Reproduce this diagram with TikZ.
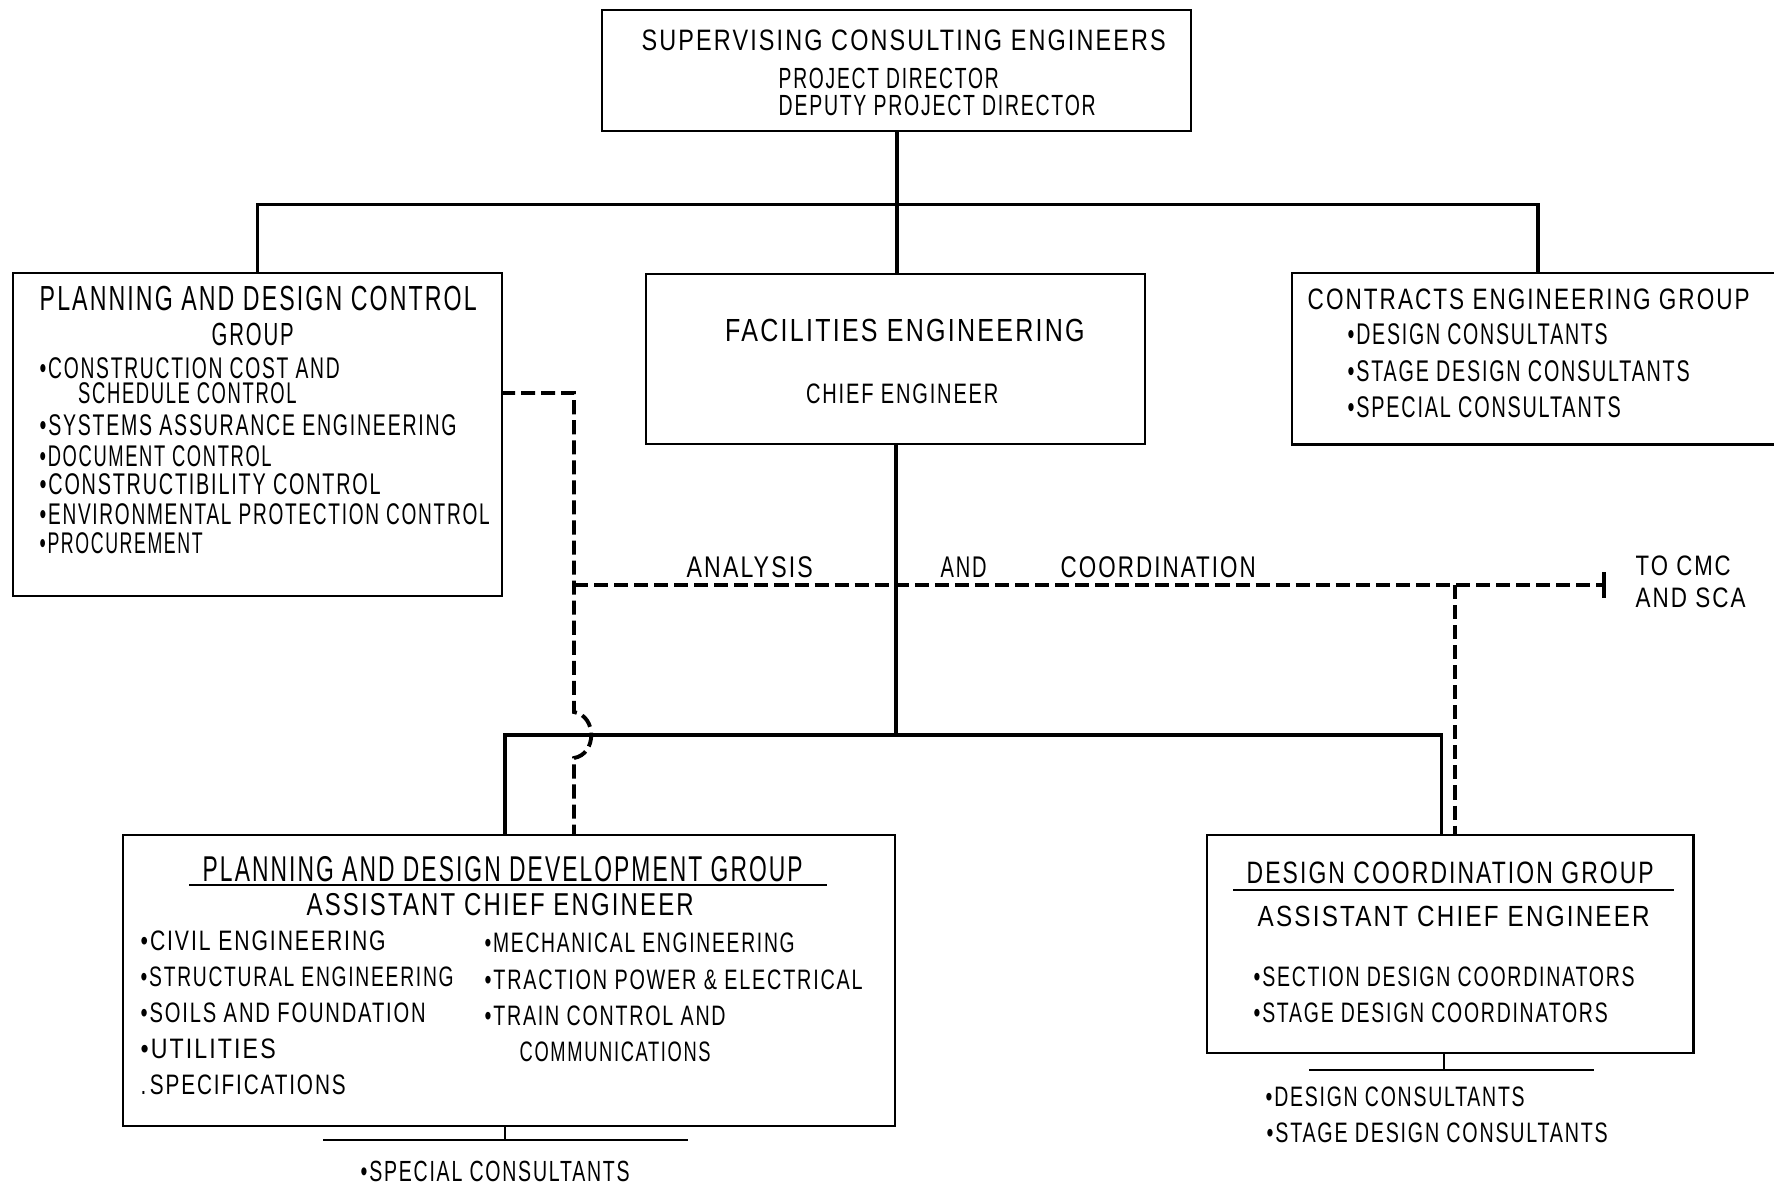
\documentclass[tikz,border=0pt]{standalone}
\usepackage{fontspec}
\setmainfont{Liberation Sans}[LetterSpace=9]
\usetikzlibrary{arrows.meta}
% one drawing unit = 0.01cm
\newlength\pxu
\setlength\pxu{0.01cm}
% set a line of lettering to a given width (in drawing units), keeping its height
\newcommand\fw[2]{\resizebox{#1\pxu}{\height}{#2}}

\begin{document}
\begin{tikzpicture}[x=0.01cm, y=-0.01cm,
  box/.style={draw, line width=0.7pt, inner sep=0pt, anchor=north west},
  conn/.style={line width=1pt},
  rel/.style={line width=1.1pt, dash pattern=on 4pt off 1.7pt},
  thinline/.style={line width=0.7pt},
  lbl/.style={inner sep=0pt, anchor=base west},
  fs/.style={font=\fontsize{#1}{#1}\selectfont}]

\fill[white] (0,0) rectangle (1774,1190);
\useasboundingbox (0,0) rectangle (1774,1190);

% ---------- boxes ----------
\node[box, minimum width=589\pxu, minimum height=121\pxu] (sce) at (601,9) {};
\node[box, minimum width=489.5\pxu, minimum height=323\pxu] (pdc) at (11.5,272) {};
\node[box, minimum width=499\pxu, minimum height=170\pxu] (fac) at (645,273) {};
\node[box, draw=none, minimum width=482\pxu, minimum height=169\pxu] (ceg) at (1292,273) {};
\draw[line width=0.7pt] (ceg.north east) -- (ceg.north west) -- (ceg.south west) -- (ceg.south east);
\node[box, minimum width=772\pxu, minimum height=290.5\pxu] (pddg) at (122,834) {};
\node[box, minimum width=486\pxu, minimum height=218\pxu] (dcg) at (1206,834) {};

% ---------- line of authority ----------
\coordinate (bar) at (0,204.5);
\coordinate (cegin) at (1538,273);
\draw[conn] (sce.south) -- (sce.south |- fac.north);
\draw[conn] (pdc.north) -- (pdc.north |- bar) -- (cegin |- bar) -- (cegin);

\coordinate (lbar) at (0,735);
\coordinate (pddgin) at (505,834);
\coordinate (dcgin) at (1441.6,834);
\draw[conn] (fac.south) -- (fac.south |- lbar);
\draw[conn] (pddgin) -- (pddgin |- lbar) -- (dcgin |- lbar) -- (dcgin);

% ---------- analysis and coordination (dashed) ----------
\coordinate (pdcout) at (501,393);
\coordinate (pddgrel) at (574,834);
\coordinate (relL) at (574,585);
\coordinate (relR) at (1455,585);
\coordinate (cmc) at (1606,585);
\draw[rel] (pdcout) -- (574,393) -- (574,712)
  .. controls (597,716) and (597,754) .. (574,758) -- (pddgrel);
\draw[rel, -{Bar[width=7.4pt]}] (relL) -- (cmc);
\draw[rel] (relR) -- (relR |- dcg.north);

% ---------- consultant branches ----------
\coordinate (spc) at (505,1140);
\coordinate (spcL) at (323,1140);
\coordinate (spcR) at (688,1140);
\draw[thinline] (spc |- pddg.south) -- (spc);
\draw[thinline] (spcL) -- (spcR);
\coordinate (dcs) at (1444,1070);
\coordinate (dcsL) at (1309,1070);
\coordinate (dcsR) at (1594,1070);
\draw[thinline] (dcs |- dcg.south) -- (dcs);
\draw[thinline] (dcsL) -- (dcsR);

% header rules
\draw[thinline] (189,885) -- (827,885);
\draw[thinline] (1233,890) -- (1674,890);

% ---------- lettering ----------
\node[lbl, fs=8.4] (t1) at (641,50.6) {\fw{524}{SUPERVISING CONSULTING ENGINEERS}};
\node[lbl, fs=8.3] (t2) at (778,88) {\fw{220}{PROJECT DIRECTOR}};
\node[lbl, fs=8.3] (t3) at (778,115) {\fw{317}{DEPUTY PROJECT DIRECTOR}};

\node[lbl, fs=9.9] (t4) at (39,310) {\fw{437}{PLANNING AND DESIGN CONTROL}};
\node[lbl, fs=9.1] (t5) at (211,345) {\fw{82}{GROUP}};
\node[lbl, fs=8.5] (t6) at (39,378) {\fw{300}{•CONSTRUCTION COST AND}};
\node[lbl, fs=8.5] (t7) at (77.5,403) {\fw{218.5}{SCHEDULE CONTROL}};
\node[lbl, fs=8.5] (t8) at (39,435) {\fw{417}{•SYSTEMS ASSURANCE ENGINEERING}};
\node[lbl, fs=8.5] (t9) at (39,466) {\fw{232}{•DOCUMENT CONTROL}};
\node[lbl, fs=8.5] (t10) at (39,494) {\fw{341}{•CONSTRUCTIBILITY CONTROL}};
\node[lbl, fs=8.5] (t11) at (39,524) {\fw{450}{•ENVIRONMENTAL PROTECTION CONTROL}};
\node[lbl, fs=8.5] (t12) at (39,553) {\fw{163}{•PROCUREMENT}};

\node[lbl, fs=9.1] (t13) at (724.5,341) {\fw{359.5}{FACILITIES ENGINEERING}};
\node[lbl, fs=8.0] (t14) at (805.4,403) {\fw{192.3}{CHIEF ENGINEER}};

\node[lbl, fs=8.4] (t15) at (1307,309) {\fw{442}{CONTRACTS ENGINEERING GROUP}};
\node[lbl, fs=8.5] (t16) at (1347,344) {\fw{260}{•DESIGN CONSULTANTS}};
\node[lbl, fs=8.5] (t17) at (1347,381.6) {\fw{342}{•STAGE DESIGN CONSULTANTS}};
\node[lbl, fs=8.5] (t18) at (1347,417) {\fw{273}{•SPECIAL CONSULTANTS}};

\node[lbl, fs=8.5] (t19) at (686,577) {\fw{126}{ANALYSIS}};
\node[lbl, fs=8.5] (t20) at (940,577) {\fw{46}{AND}};
\node[lbl, fs=8.5] (t21) at (1060,577) {\fw{195}{COORDINATION}};
\node[lbl, fs=8.0] (t22) at (1635,575) {\fw{95}{TO CMC}};
\node[lbl, fs=8.0] (t23) at (1635,607) {\fw{110}{AND SCA}};

\node[lbl, fs=10.2] (t24) at (202,881) {\fw{600}{PLANNING AND DESIGN DEVELOPMENT GROUP}};
\node[lbl, fs=9.0] (t25) at (306,915.6) {\fw{387}{ASSISTANT CHIEF ENGINEER}};
\node[lbl, fs=8.0] (t26) at (140,950) {\fw{245}{•CIVIL ENGINEERING}};
\node[lbl, fs=8.0] (t27) at (140,986) {\fw{313}{•STRUCTURAL ENGINEERING}};
\node[lbl, fs=8.0] (t28) at (140,1022) {\fw{285}{•SOILS AND FOUNDATION}};
\node[lbl, fs=8.0] (t29) at (140,1058) {\fw{135}{•UTILITIES}};
\node[lbl, fs=8.0] (t30) at (140,1094) {\fw{205}{.\,SPECIFICATIONS}};
\node[lbl, fs=8.0] (t31) at (484,952) {\fw{310}{•MECHANICAL ENGINEERING}};
\node[lbl, fs=8.0] (t32) at (484,989) {\fw{378}{•TRACTION POWER \& ELECTRICAL}};
\node[lbl, fs=8.0] (t33) at (484,1025) {\fw{241}{•TRAIN CONTROL AND}};
\node[lbl, fs=8.0] (t34) at (519,1061) {\fw{191}{COMMUNICATIONS}};
\node[lbl, fs=8.3] (t35) at (360,1181) {\fw{269}{•SPECIAL CONSULTANTS}};

\node[lbl, fs=8.8] (t36) at (1246,883) {\fw{407}{DESIGN COORDINATION GROUP}};
\node[lbl, fs=8.3] (t37) at (1257,926) {\fw{392}{ASSISTANT CHIEF ENGINEER}};
\node[lbl, fs=8.0] (t38) at (1253,986) {\fw{381}{•SECTION DESIGN COORDINATORS}};
\node[lbl, fs=8.0] (t39) at (1253,1022) {\fw{354}{•STAGE DESIGN COORDINATORS}};
\node[lbl, fs=8.0] (t40) at (1265,1106) {\fw{259}{•DESIGN CONSULTANTS}};
\node[lbl, fs=8.0] (t41) at (1266,1142.5) {\fw{341}{•STAGE DESIGN CONSULTANTS}};

\end{tikzpicture}
\end{document}
